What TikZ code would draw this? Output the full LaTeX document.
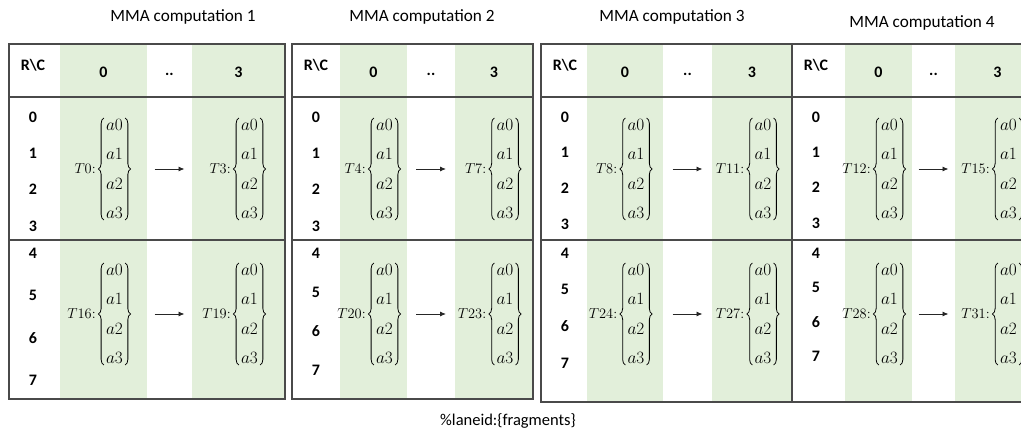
\documentclass[tikz,border=0pt]{standalone}
\usepackage{amsmath}
\usepackage{fontspec}
\newfontfamily\calibri{Carlito}
\usetikzlibrary{arrows.meta,calc,decorations.pathreplacing}
\definecolor{laneGreen}{HTML}{E2EFDA}
\definecolor{gridLine}{HTML}{4A4A4A}
\tikzset{
  paneltitle/.style={font=\calibri\fontsize{17.2}{20}\selectfont},
  cellhead/.style={font=\calibri\bfseries\fontsize{16}{19}\selectfont, inner sep=1pt},
  rowlabel/.style={font=\calibri\bfseries\fontsize{16}{19}\selectfont, inner sep=1pt},
  entrycol/.style={font=\fontsize{16}{29.5}\selectfont, align=center, inner sep=1pt},
  fragtag/.style={font=\fontsize{14.5}{18}\selectfont, inner sep=1pt, anchor=east},
  curly/.style={decorate, decoration={brace, amplitude=5.5pt}, line width=0.8pt},
  lane/.style={fill=laneGreen},
  frame/.style={draw=gridLine, line width=1.2pt},
  flow/.style={-{Latex[length=6pt,width=5pt]}, line width=0.9pt, draw=black!85}
}
\begin{document}
\begin{tikzpicture}[x=1pt,y=-1pt]
\useasboundingbox (0,0) rectangle (1021,431);
\clip (0,0) rectangle (1021,431);

\foreach \p/\xa/\xb/\xc/\xd/\xe/\yb/\tx/\ty/\da/\db in {
    1/9/60/147/192/285/399/183/17/36.3/42.3,
    2/292/340/407/455/533/399/422/17/36.3/39,
    3/541/587/663/712/792/402/672/17/35.7/36.7,
    4/792/845/912/955/1040/402/922/23/35.3/34.3}{
  % lanes and frame
  \fill[lane] (\xb,44) rectangle (\xc,\yb);
  \fill[lane] (\xd,44) rectangle (\xe,\yb);
  \draw[frame] (\xa,44) rectangle (\xe,\yb);
  \draw[frame] (\xa,97) -- (\xe,97) (\xa,240) -- (\xe,240);
  \pgfmathsetmacro\xrow{\xa+24}
  \pgfmathsetmacro\xzero{(\xb+\xc)/2+11}
  \pgfmathsetmacro\xdots{(\xc+\xd)/2}
  \pgfmathsetmacro\xlast{(\xd+\xe)/2+11}
  \pgfmathtruncatemacro\ta{4*(\p-1)}
  \pgfmathtruncatemacro\tb{\ta+3}
  \pgfmathtruncatemacro\tc{\ta+16}
  \pgfmathtruncatemacro\td{\ta+19}
  % header
  \node[paneltitle] (title\p) at (\tx,\ty) {MMA computation \p};
  \node[cellhead] (rc\p) at (\xrow,65) {R\textbackslash C};
  \node[cellhead] (zero\p) at (\xzero-11,72) {0};
  \node[cellhead] (dots\p) at (\xdots,74) {..};
  \node[cellhead] (last\p) at (\xlast-11,72) {3};
  % rows
  \foreach \r in {0,...,3}
    \node[rowlabel] (row\p-\r) at (\xrow,117+\r*\da) {\r};
  \foreach \r in {4,...,7}
    \node[rowlabel] (row\p-\r) at (\xrow,253+\r*\db-4*\db) {\r};
  % fragments
  \foreach \f/\fx/\fy/\fn in {a/\xzero/169/\ta, b/\xlast/169/\tb, c/\xzero/314/\tc, d/\xlast/314/\td}{
    \node[entrycol] (frag\f\p) at (\fx,\fy) {$a0$\\$a1$\\$a2$\\$a3$};
    \node[fragtag] (tag\f\p) at ([xshift=-8pt]frag\f\p.west) {$T\fn{:}$};
    \draw[curly] ([xshift=-1pt]frag\f\p.south west) -- ([xshift=-1pt]frag\f\p.north west);
    \draw[curly] ([xshift=1pt]frag\f\p.north east) -- ([xshift=1pt]frag\f\p.south east);
  }
  \draw[flow] ([xshift=-15pt]dots\p |- fraga\p) -- ([xshift=15pt]dots\p |- fraga\p);
  \draw[flow] ([xshift=-15pt]dots\p |- fragc\p) -- ([xshift=15pt]dots\p |- fragc\p);
}

\node[paneltitle, font=\calibri\fontsize{16.5}{20}\selectfont] (caption) at (508,421) {\%laneid:\{fragments\}};
\end{tikzpicture}
\end{document}
